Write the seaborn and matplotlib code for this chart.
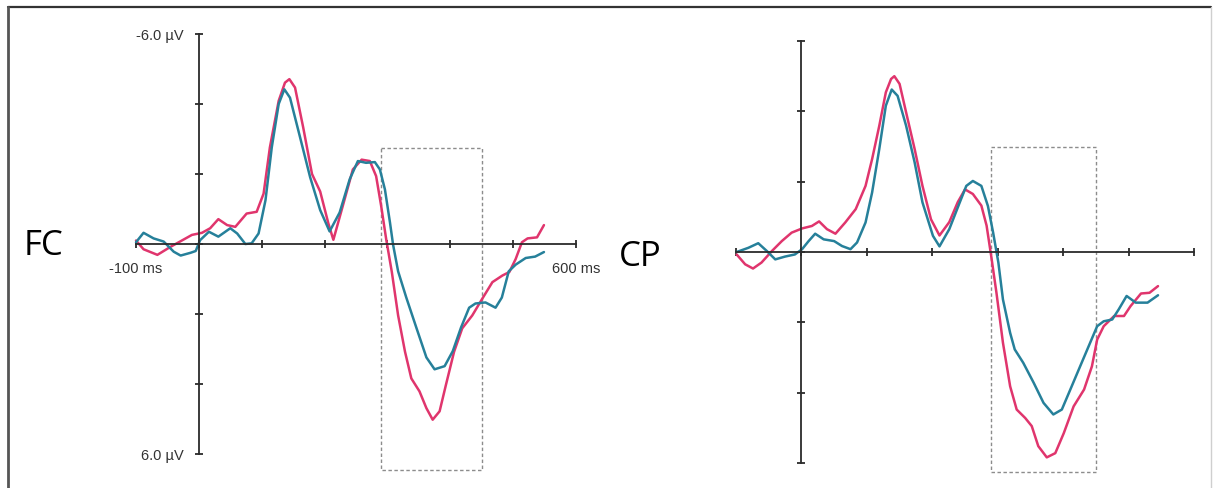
import matplotlib
matplotlib.use("Agg")
import matplotlib.pyplot as plt
import seaborn as sns
from matplotlib.patches import Rectangle
from matplotlib.lines import Line2D

# ---- data (ms, µV; negative plotted up) ----
fc_pink_ms = [-100, -88, -66, -45, -35, -11, 5, 18, 31, 45, 58, 76, 92, 103, 113, 127, 137, 144,
              153, 166, 180, 193, 206, 214, 229, 245, 259, 272, 282, 290, 298, 307, 317, 328, 338,
              351, 362, 372, 383, 393, 406, 419, 435, 451, 467, 483, 494, 504, 514, 523, 538, 549]
fc_pink_uv = [-0.1, 0.15, 0.31, 0.08, -0.02, -0.26, -0.32, -0.45, -0.71, -0.54, -0.49, -0.87, -0.92,
              -1.44, -2.76, -4.09, -4.61, -4.71, -4.47, -3.33, -2.0, -1.5, -0.59, -0.12, -1.09, -2.13,
              -2.41, -2.37, -1.94, -1.09, -0.14, 0.80, 2.04, 3.08, 3.84, 4.21, 4.69, 5.02, 4.78, 4.03,
              3.08, 2.41, 2.04, 1.56, 1.09, 0.9, 0.80, 0.43, -0.05, -0.16, -0.19, -0.54]

fc_teal_ms = [-100, -88, -72, -56, -40, -29, -13, -5, 2, 16, 31, 50, 61, 74, 84, 95, 106, 116, 127,
              136, 145, 161, 177, 193, 208, 224, 240, 253, 266, 280, 288, 296, 304, 309, 317, 330,
              346, 362, 375, 391, 404, 417, 430, 440, 456, 472, 482, 493, 504, 520, 535, 549]
fc_teal_uv = [-0.05, -0.32, -0.16, -0.07, 0.22, 0.33, 0.25, 0.2, -0.11, -0.35, -0.21, -0.45, -0.3,
              0.0, -0.02, -0.3, -1.25, -2.76, -4.0, -4.42, -4.18, -3.05, -1.91, -0.97, -0.36, -0.9,
              -1.85, -2.37, -2.32, -2.34, -2.13, -1.56, -0.62, 0.02, 0.78, 1.53, 2.39, 3.24, 3.58,
              3.49, 3.06, 2.39, 1.82, 1.7, 1.67, 1.82, 1.53, 0.78, 0.59, 0.4, 0.36, 0.23]

cp_pink_ms = [-99, -86, -74, -61, -45, -30, -15, 1, 16, 27, 39, 52, 67, 83, 98, 108, 119, 129, 137,
              142, 150, 160, 173, 185, 198, 211, 226, 239, 250, 262, 275, 283, 290, 298, 308, 319,
              329, 342, 352, 362, 375, 388, 401, 416, 432, 444, 452, 462, 478, 493, 503, 519, 532, 545]
cp_pink_uv = [0.07, 0.35, 0.47, 0.3, -0.03, -0.31, -0.55, -0.67, -0.74, -0.87, -0.65, -0.52, -0.84,
              -1.22, -1.88, -2.64, -3.59, -4.54, -4.92, -5.0, -4.78, -3.97, -2.93, -1.88, -0.93,
              -0.47, -0.85, -1.42, -1.78, -1.65, -1.32, -0.75, 0.11, 1.15, 2.58, 3.82, 4.48, 4.72,
              4.95, 5.52, 5.84, 5.72, 5.15, 4.39, 3.91, 3.25, 2.49, 2.11, 1.82, 1.82, 1.54, 1.18,
              1.16, 0.97]

cp_teal_ms = [-99, -81, -66, -53, -40, -25, -10, 1, 11, 21, 34, 50, 62, 75, 85, 98, 108, 119, 129,
              138, 147, 160, 173, 185, 201, 211, 226, 242, 252, 262, 275, 285, 293, 301, 308, 319,
              326, 339, 355, 370, 385, 398, 411, 426, 439, 452, 462, 475, 485, 497, 511, 529, 545]
cp_teal_uv = [0.0, -0.12, -0.25, -0.03, 0.21, 0.13, 0.07, -0.08, -0.31, -0.52, -0.36, -0.31, -0.17,
              -0.08, -0.27, -0.84, -1.69, -2.93, -4.16, -4.62, -4.44, -3.59, -2.55, -1.41, -0.46,
              -0.16, -0.65, -1.41, -1.88, -2.02, -1.88, -1.31, -0.55, 0.3, 1.35, 2.3, 2.77, 3.15,
              3.72, 4.29, 4.62, 4.48, 3.91, 3.25, 2.68, 2.11, 1.97, 1.92, 1.63, 1.25, 1.44, 1.44, 1.23]

box_ms = [290, 450]
fc_box_uv = [-2.75, 6.45]
cp_box_uv = [-3.0, 6.25]

x_ticks = [-100, 0, 100, 200, 300, 400, 500, 600]
x_ticklabels = ["-100 ms", "", "", "", "", "", "", "600 ms"]
y_ticks = [-6, -4, -2, 0, 2, 4, 6]
y_ticklabels = ["-6.0 µV", "", "", "", "", "", "6.0 µV"]

PINK = "#e0356d"
TEAL = "#26809a"
AXC = "#2b2b2b"

sns.set_style("white")
plt.rcParams["font.family"] = ["Liberation Sans", "DejaVu Sans"]

W, H = 1213, 489
fig = plt.figure(figsize=(W / 100, H / 100), dpi=100)


def make_ax(left_px, top_px, px_ms, px_uv):
    # axes spanning -110..610 ms and -6.6..6.6 µV
    left = left_px - 10 * px_ms
    top = top_px - 0.6 * px_uv
    width = 720 * px_ms
    height = 13.2 * px_uv
    return fig.add_axes([left / W, 1 - (top + height) / H, width / W, height / H])


def draw_panel(ax, pink_ms, pink_uv, teal_ms, teal_uv, box_uv, labels):
    line_kw = dict(linewidth=1.8, sort=False, estimator=None,
                   solid_joinstyle="round", solid_capstyle="round")
    sns.lineplot(x=pink_ms, y=pink_uv, ax=ax, color=PINK, **line_kw)
    sns.lineplot(x=teal_ms, y=teal_uv, ax=ax, color=TEAL, **line_kw)
    ax.add_patch(Rectangle((box_ms[0], box_uv[0]), box_ms[1] - box_ms[0], box_uv[1] - box_uv[0],
                           fill=False, ec="#8c8c8c", lw=1.0, ls=(0, (2.5, 1.8)), zorder=1))
    ax.set_xlim(-110, 610)
    ax.set_ylim(6.6, -6.6)
    ax.set_facecolor("none")
    for s in ["top", "right"]:
        ax.spines[s].set_visible(False)
    ax.spines["left"].set_position(("data", 0))
    ax.spines["bottom"].set_position(("data", 0))
    ax.spines["left"].set_bounds(-6, 6)
    ax.spines["bottom"].set_bounds(-100, 600)
    for s in ["left", "bottom"]:
        ax.spines[s].set_color(AXC)
        ax.spines[s].set_linewidth(1.3)
    ax.set_xticks(x_ticks)
    ax.set_yticks(y_ticks)
    if labels:
        ax.set_xticklabels(x_ticklabels)
        ax.set_yticklabels(y_ticklabels)
    else:
        ax.set_xticklabels([])
        ax.set_yticklabels([])
    ax.tick_params(axis="both", bottom=True, left=True, direction="inout", length=6, width=1.3,
                   color=AXC, labelsize=10.5, labelcolor="#333333")
    ax.tick_params(axis="x", pad=9)
    ax.tick_params(axis="y", pad=8)
    ax.set_xlabel("")
    ax.set_ylabel("")


ax_fc = make_ax(136, 35, 440 / 700, 420 / 12)
draw_panel(ax_fc, fc_pink_ms, fc_pink_uv, fc_teal_ms, fc_teal_uv, fc_box_uv, True)

ax_cp = make_ax(736, 42, 458 / 700, 422 / 12)
draw_panel(ax_cp, cp_pink_ms, cp_pink_uv, cp_teal_ms, cp_teal_uv, cp_box_uv, False)

fig.text(24 / W, 1 - 246 / H, "FC", fontsize=25, family=["Open Sans", "DejaVu Sans"],
         ha="left", va="center", color="black")
fig.text(619 / W, 1 - 257 / H, "CP", fontsize=25, family=["Open Sans", "DejaVu Sans"],
         ha="left", va="center", color="black")

# outer frame (bottom edge falls outside the picture)
fig.add_artist(Line2D([7.5 / W, 1211 / W], [1 - 7.5 / H, 1 - 7.5 / H], color="#333333", lw=1.6))
fig.add_artist(Line2D([7.5 / W, 7.5 / W], [0, 1 - 7.5 / H], color="#555555", lw=2.0))
fig.add_artist(Line2D([1211 / W, 1211 / W], [0, 1 - 7.5 / H], color="#cfcfcf", lw=1.0))

fig.savefig("out.png", dpi=100)
